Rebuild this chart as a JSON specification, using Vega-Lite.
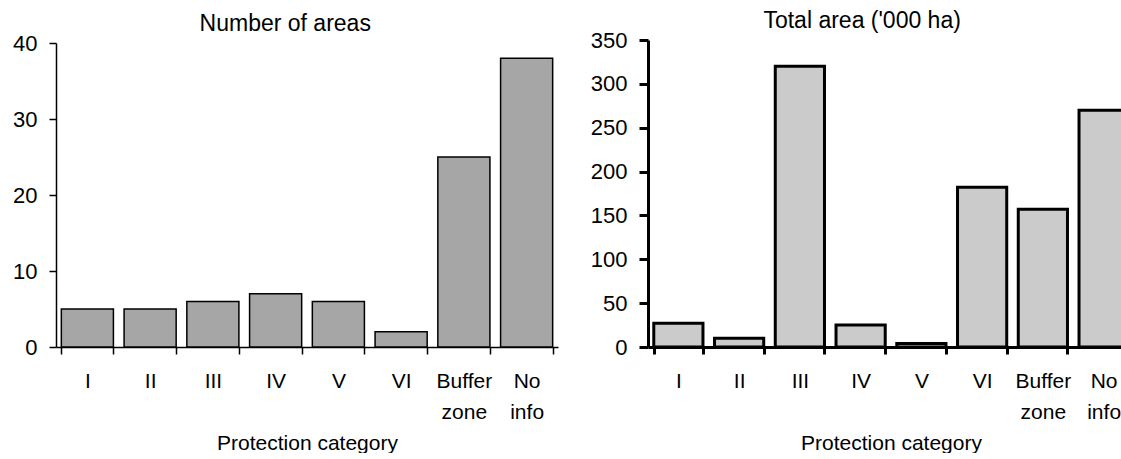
{
  "$schema": "https://vega.github.io/schema/vega-lite/v6.json",
  "background": "white",
  "padding": {"left": 12, "top": 10, "right": -10, "bottom": 0},
  "spacing": 32,
  "config": {
    "view": {"stroke": null},
    "font": "Liberation Sans",
    "title": {"font": "Liberation Sans", "fontSize": 23, "fontWeight": "normal", "color": "black", "anchor": "middle", "frame": "bounds", "offset": -4},
    "axis": {"labelFont": "Liberation Sans", "labelFontSize": 21, "labelColor": "black", "titleFont": "Liberation Sans", "titleFontSize": 21, "titleFontWeight": "normal", "titleColor": "black", "grid": false, "domainColor": "black", "tickColor": "black", "tickSize": 7}
  },
  "datasets": {
    "counts": [
      {"category": "I", "value": 5},
      {"category": "II", "value": 5},
      {"category": "III", "value": 6},
      {"category": "IV", "value": 7},
      {"category": "V", "value": 6},
      {"category": "VI", "value": 2},
      {"category": "Buffer zone", "value": 25},
      {"category": "No info", "value": 38}
    ],
    "areas": [
      {"category": "I", "value": 27},
      {"category": "II", "value": 10},
      {"category": "III", "value": 320},
      {"category": "IV", "value": 25},
      {"category": "V", "value": 4},
      {"category": "VI", "value": 182},
      {"category": "Buffer zone", "value": 157},
      {"category": "No info", "value": 270}
    ]
  },
  "hconcat": [
    {
      "title": "Number of areas",
      "width": 502,
      "height": 307,
      "data": {"name": "counts"},
      "mark": {"type": "bar", "fill": "#a6a6a6", "stroke": "black", "strokeWidth": 1.5},
      "encoding": {
        "x": {
          "field": "category", "type": "nominal", "sort": null,
          "scale": {"paddingInner": 0.17, "paddingOuter": 0.085},
          "axis": {"title": "Protection category", "labelAngle": 0, "tickBand": "extent", "domainWidth": 1.5, "tickWidth": 1.5, "labelPadding": 16, "labelLineHeight": 31, "titlePadding": 10,
            "labelExpr": "datum.value == 'Buffer zone' ? ['Buffer', 'zone'] : datum.value == 'No info' ? ['No', 'info'] : datum.label"}
        },
        "y": {
          "field": "value", "type": "quantitative",
          "scale": {"domain": [0, 40], "range": [307, 3], "nice": false},
          "axis": {"title": null, "values": [0, 10, 20, 30, 40], "domainWidth": 1.5, "tickWidth": 1.5, "labelPadding": 12, "labelFontSize": 22}
        }
      }
    },
    {
      "title": "Total area ('000 ha)",
      "width": 486,
      "height": 307,
      "data": {"name": "areas"},
      "mark": {"type": "bar", "fill": "#cbcbcb", "stroke": "black", "strokeWidth": 3},
      "encoding": {
        "x": {
          "field": "category", "type": "nominal", "sort": null,
          "scale": {"paddingInner": 0.19, "paddingOuter": 0.095},
          "axis": {"title": "Protection category", "labelAngle": 0, "tickBand": "extent", "domainWidth": 3, "tickWidth": 3, "tickSize": 7, "labelPadding": 16, "labelLineHeight": 31, "titlePadding": 10,
            "labelExpr": "datum.value == 'Buffer zone' ? ['Buffer', 'zone'] : datum.value == 'No info' ? ['No', 'info'] : datum.label"}
        },
        "y": {
          "field": "value", "type": "quantitative",
          "scale": {"domain": [0, 350], "nice": false},
          "axis": {"title": null, "values": [0, 50, 100, 150, 200, 250, 300, 350], "domainWidth": 3, "tickWidth": 3, "tickSize": 9, "labelPadding": 12, "labelFontSize": 22}
        }
      }
    }
  ]
}
